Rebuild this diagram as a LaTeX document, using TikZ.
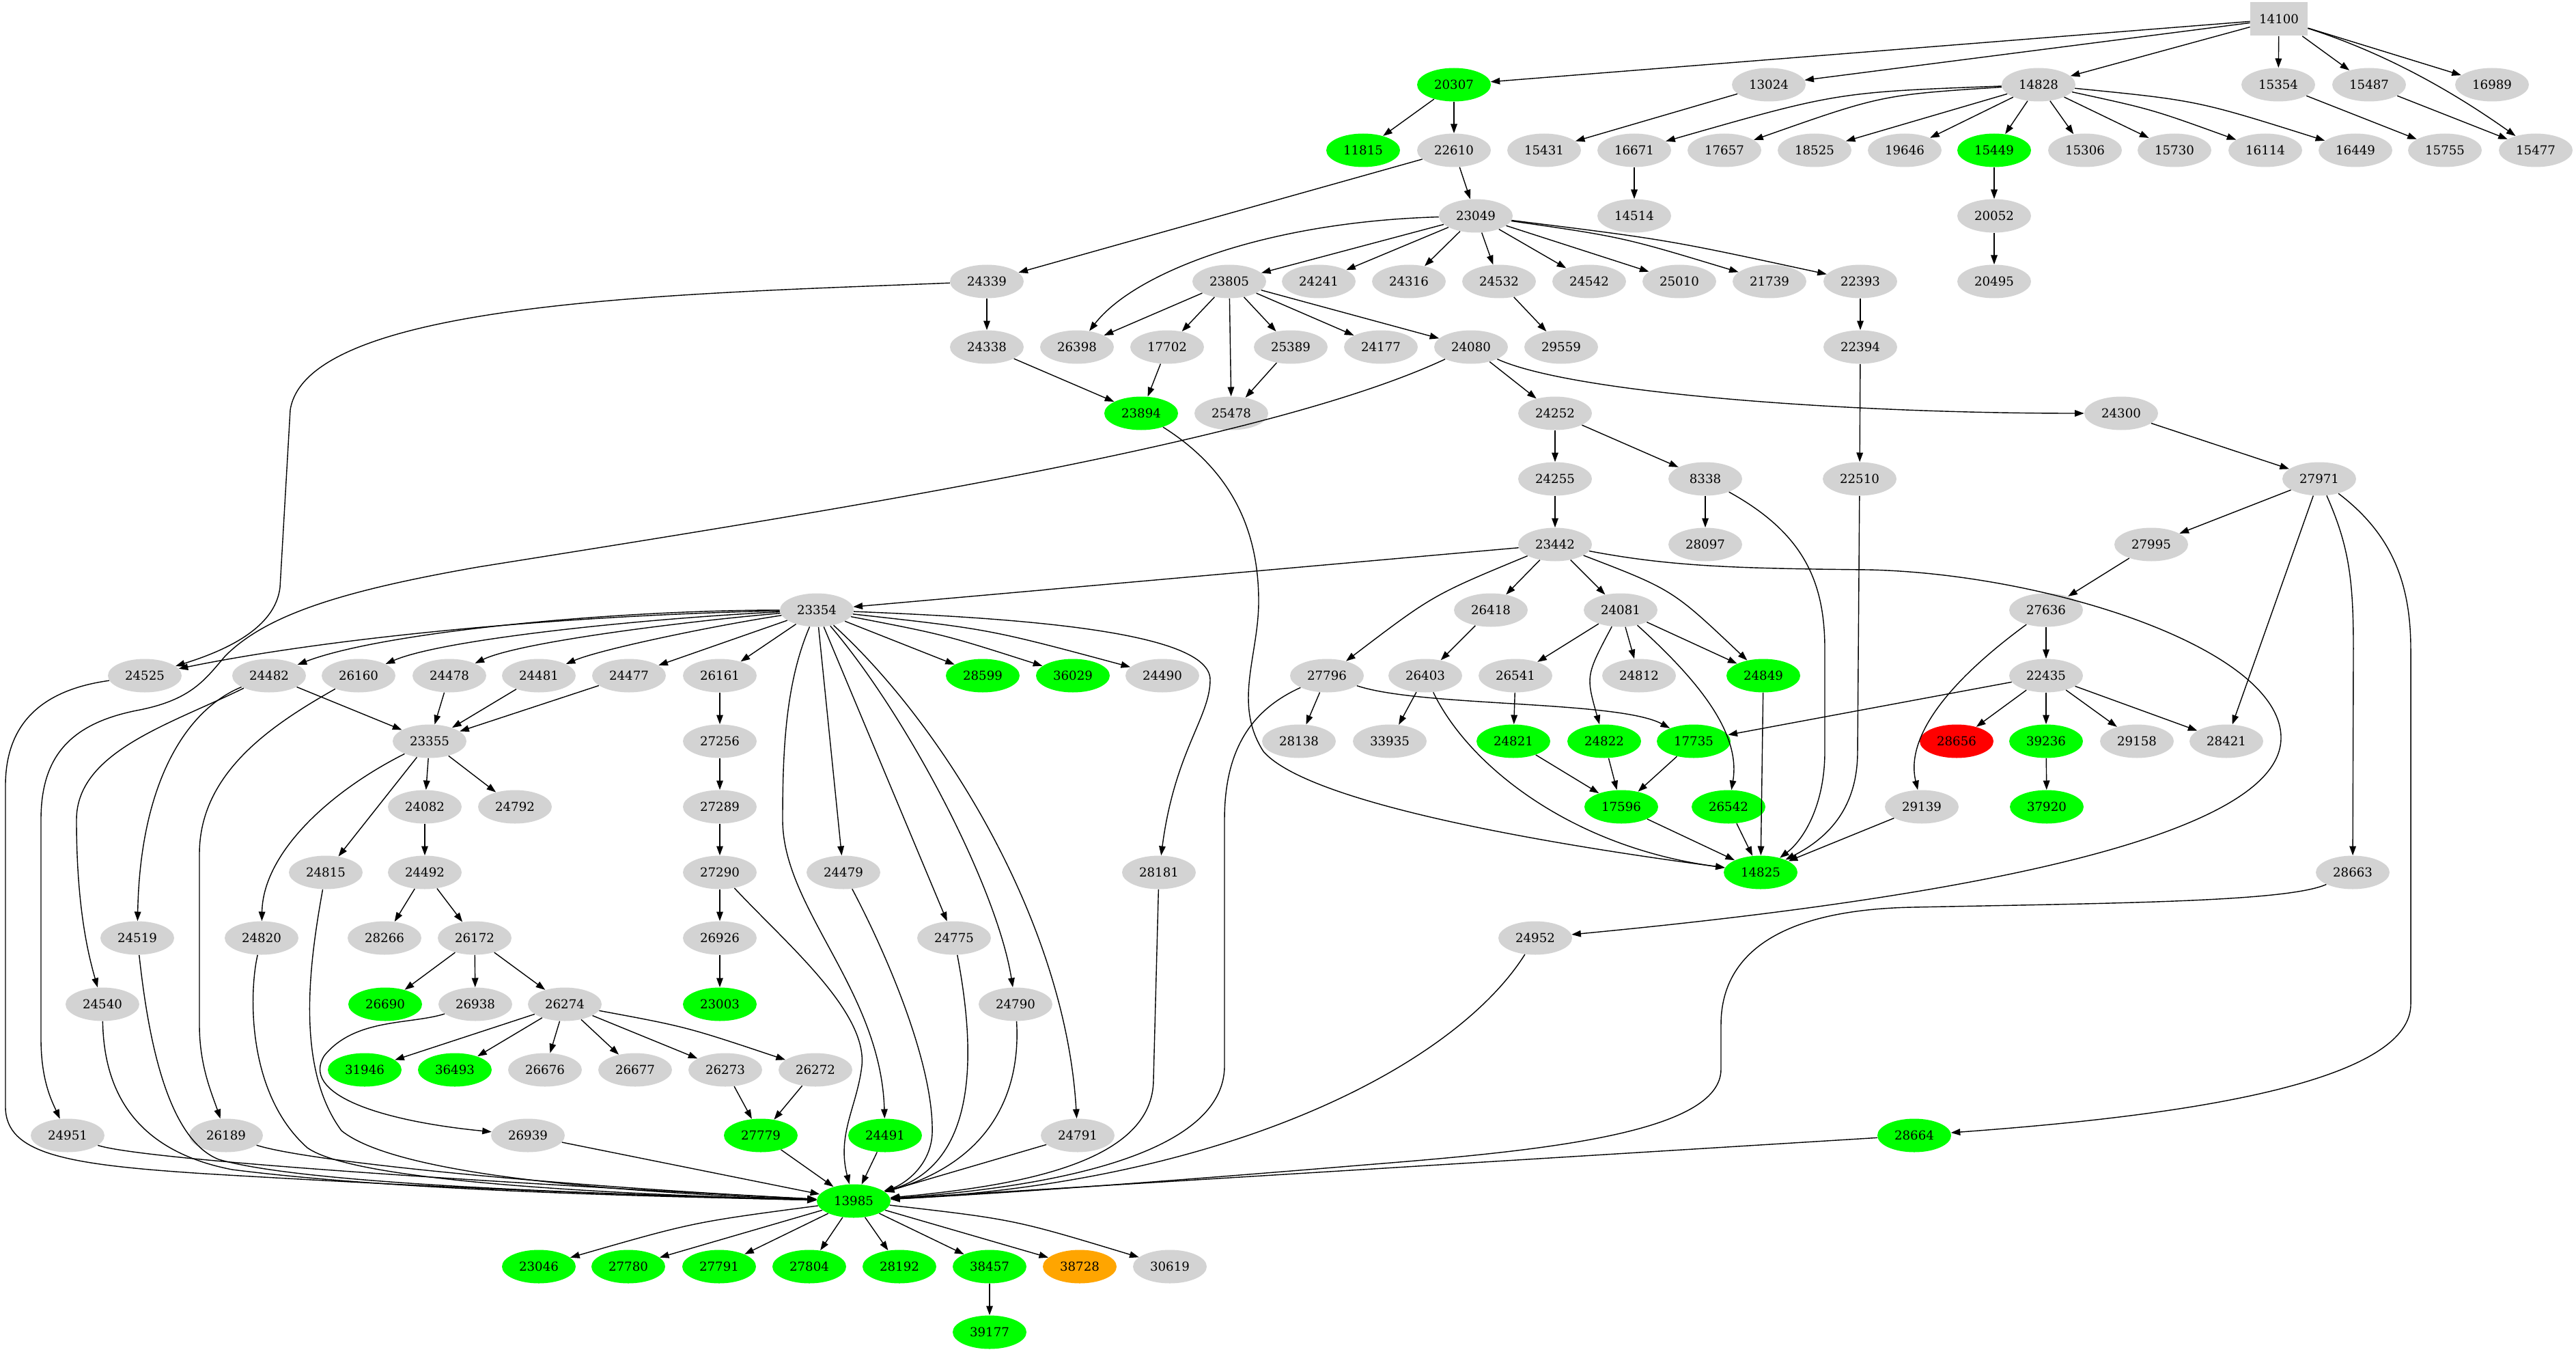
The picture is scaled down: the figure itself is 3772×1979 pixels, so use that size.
\documentclass[tikz,border=0pt]{standalone}
\usepackage{fontspec}
\setmainfont{DejaVu Serif}
\usetikzlibrary{arrows.meta,shapes.geometric}
\definecolor{ggray}{HTML}{D3D3D3}
\definecolor{ggreen}{HTML}{00FF00}
\definecolor{gred}{HTML}{FF0000}
\definecolor{gorange}{HTML}{FFA500}
\tikzset{
 nd/.style={ellipse,fill=ggray,minimum width=54pt,minimum height=24.5pt,inner sep=0pt,font=\fontsize{9.1}{11}\selectfont},
 gn/.style={nd,fill=ggreen},
 rdn/.style={nd,fill=gred},
 orn/.style={nd,fill=gorange},
 bxn/.style={rectangle,fill=ggray,minimum width=42pt,minimum height=24.5pt,inner sep=0pt,font=\fontsize{9.1}{11}\selectfont},
 ar/.style={-{Triangle[length=6.8pt,width=4.8pt]},line width=0.7pt}
}
\begin{document}
\begin{tikzpicture}[x=0.5pt,y=-0.5pt]
\useasboundingbox (0,0) rectangle (3772,1979);
% row 0
\node[bxn] (n14100) at (3337,28) {14100};
% row 1
\node[gn] (n20307) at (2129,124) {20307};
\node[nd] (n13024) at (2590,124) {13024};
\node[nd] (n14828) at (2985,124) {14828};
\node[nd] (n15354) at (3336,124) {15354};
\node[nd] (n15487) at (3469,124) {15487};
\node[nd] (n16989) at (3649,124) {16989};
% row 2
\node[gn] (n11815) at (1996,220) {11815};
\node[nd] (n22610) at (2129,220) {22610};
\node[nd] (n15431) at (2261,220) {15431};
\node[nd] (n16671) at (2393,220) {16671};
\node[nd] (n17657) at (2525,220) {17657};
\node[nd] (n18525) at (2657,220) {18525};
\node[nd] (n19646) at (2789,220) {19646};
\node[gn] (n15449) at (2920,220) {15449};
\node[nd] (n15306) at (3053,220) {15306};
\node[nd] (n15730) at (3184,220) {15730};
\node[nd] (n16114) at (3317,220) {16114};
\node[nd] (n16449) at (3449,220) {16449};
\node[nd] (n15755) at (3580,220) {15755};
\node[nd] (n15477) at (3713,220) {15477};
% row 3
\node[nd] (n23049) at (2161,316) {23049};
\node[nd] (n14514) at (2393,316) {14514};
\node[nd] (n20052) at (2920,316) {20052};
% row 4
\node[nd] (n24339) at (1445,412) {24339};
\node[nd] (n23805) at (1800,412) {23805};
\node[nd] (n24241) at (1931,412) {24241};
\node[nd] (n24316) at (2063,412) {24316};
\node[nd] (n24532) at (2195,412) {24532};
\node[nd] (n24542) at (2327,412) {24542};
\node[nd] (n25010) at (2459,412) {25010};
\node[nd] (n21739) at (2591,412) {21739};
\node[nd] (n22393) at (2724,412) {22393};
\node[nd] (n20495) at (2920,412) {20495};
% row 5
\node[nd] (n24338) at (1445,508) {24338};
\node[nd] (n26398) at (1577,508) {26398};
\node[nd] (n17702) at (1709,508) {17702};
\node[nd] (n25389) at (1890,508) {25389};
\node[nd] (n24177) at (2022,508) {24177};
\node[nd] (n24080) at (2154,508) {24080};
\node[nd] (n29559) at (2286,508) {29559};
\node[nd] (n22394) at (2724,508) {22394};
% row 6
\node[gn] (n23894) at (1671,605) {23894};
\node[nd] (n25478) at (1803,605) {25478};
\node[nd] (n24252) at (2277,605) {24252};
\node[nd] (n24300) at (3106,605) {24300};
% row 7
\node[nd] (n24255) at (2277,701) {24255};
\node[nd] (n8338) at (2497,701) {8338};
\node[nd] (n22510) at (2723,701) {22510};
\node[nd] (n27971) at (3396,701) {27971};
% row 8
\node[nd] (n23442) at (2277,797) {23442};
\node[nd] (n28097) at (2497,797) {28097};
\node[nd] (n27995) at (3150,797) {27995};
% row 9
\node[nd] (n23354) at (1196,893) {23354};
\node[nd] (n26418) at (2183,893) {26418};
\node[nd] (n24081) at (2373,893) {24081};
\node[nd] (n27636) at (2996,893) {27636};
% row 10
\node[nd] (n24525) at (212,989) {24525};
\node[nd] (n24482) at (394,989) {24482};
\node[nd] (n26160) at (525,989) {26160};
\node[nd] (n24478) at (658,989) {24478};
\node[nd] (n24481) at (789,989) {24481};
\node[nd] (n24477) at (921,989) {24477};
\node[nd] (n26161) at (1054,989) {26161};
\node[gn] (n28599) at (1439,989) {28599};
\node[gn] (n36029) at (1571,989) {36029};
\node[nd] (n24490) at (1702,989) {24490};
\node[nd] (n27796) at (1943,989) {27796};
\node[nd] (n26403) at (2087,989) {26403};
\node[nd] (n26541) at (2219,989) {26541};
\node[nd] (n24812) at (2400,989) {24812};
\node[gn] (n24849) at (2582,989) {24849};
\node[nd] (n22435) at (2996,989) {22435};
% row 11
\node[nd] (n23355) at (629,1085) {23355};
\node[nd] (n27256) at (1054,1085) {27256};
\node[nd] (n28138) at (1902,1085) {28138};
\node[nd] (n33935) at (2035,1085) {33935};
\node[gn] (n24821) at (2216,1085) {24821};
\node[gn] (n24822) at (2349,1085) {24822};
\node[gn] (n17735) at (2480,1085) {17735};
\node[rdn] (n28656) at (2865,1085) {28656};
\node[gn] (n39236) at (2996,1085) {39236};
\node[nd] (n29158) at (3129,1085) {29158};
\node[nd] (n28421) at (3260,1085) {28421};
% row 12
\node[nd] (n24082) at (622,1181) {24082};
\node[nd] (n24792) at (754,1181) {24792};
\node[nd] (n27289) at (1054,1181) {27289};
\node[gn] (n17596) at (2374,1181) {17596};
\node[gn] (n26542) at (2531,1181) {26542};
\node[nd] (n29139) at (2814,1181) {29139};
\node[gn] (n37920) at (2997,1181) {37920};
% row 13
\node[nd] (n24815) at (477,1277) {24815};
\node[nd] (n24492) at (622,1277) {24492};
\node[nd] (n27290) at (1054,1277) {27290};
\node[nd] (n24479) at (1235,1277) {24479};
\node[nd] (n28181) at (1697,1277) {28181};
\node[gn] (n14825) at (2578,1277) {14825};
\node[nd] (n28663) at (3445,1277) {28663};
% row 14
\node[nd] (n24519) at (201,1373) {24519};
\node[nd] (n24820) at (383,1373) {24820};
\node[nd] (n28266) at (563,1373) {28266};
\node[nd] (n26172) at (695,1373) {26172};
\node[nd] (n26926) at (1054,1373) {26926};
\node[nd] (n24775) at (1397,1373) {24775};
\node[nd] (n24952) at (2248,1373) {24952};
% row 15
\node[nd] (n24540) at (150,1470) {24540};
\node[gn] (n26690) at (564,1470) {26690};
\node[nd] (n26938) at (696,1470) {26938};
\node[nd] (n26274) at (827,1470) {26274};
\node[gn] (n23003) at (1054,1470) {23003};
\node[nd] (n24790) at (1487,1470) {24790};
% row 16
\node[gn] (n31946) at (534,1566) {31946};
\node[gn] (n36493) at (666,1566) {36493};
\node[nd] (n26676) at (798,1566) {26676};
\node[nd] (n26677) at (930,1566) {26677};
\node[nd] (n26273) at (1062,1566) {26273};
\node[nd] (n26272) at (1194,1566) {26272};
% row 17
\node[nd] (n24951) at (99,1662) {24951};
\node[nd] (n26189) at (331,1662) {26189};
\node[nd] (n26939) at (773,1662) {26939};
\node[gn] (n27779) at (1114,1662) {27779};
\node[gn] (n24491) at (1296,1662) {24491};
\node[nd] (n24791) at (1578,1662) {24791};
\node[gn] (n28664) at (2803,1662) {28664};
% row 18
\node[gn] (n13985) at (1250,1758) {13985};
% row 19
\node[gn] (n23046) at (789,1854) {23046};
\node[gn] (n27780) at (920,1854) {27780};
\node[gn] (n27791) at (1053,1854) {27791};
\node[gn] (n27804) at (1185,1854) {27804};
\node[gn] (n28192) at (1317,1854) {28192};
\node[gn] (n38457) at (1449,1854) {38457};
\node[orn] (n38728) at (1581,1854) {38728};
\node[nd] (n30619) at (1713,1854) {30619};
% row 20
\node[gn] (n39177) at (1449,1950) {39177};

% straight edges
\foreach \a/\b in {14100/20307,14100/13024,14100/14828,14100/15354,14100/15487,14100/16989,
 20307/11815,20307/22610,13024/15431,
 14828/18525,14828/19646,14828/15449,14828/15306,14828/15730,
 15354/15755,15487/15477,
 22610/23049,22610/24339,16671/14514,15449/20052,20052/20495,
 23049/23805,23049/24241,23049/24316,23049/24532,23049/24542,23049/25010,
 24339/24338,23805/26398,23805/17702,23805/25478,23805/25389,23805/24177,23805/24080,
 24532/29559,22393/22394,22394/22510,
 24338/23894,17702/23894,25389/25478,
 24080/24252,24252/24255,24252/8338,24300/27971,
 24255/23442,8338/28097,27971/27995,27971/28421,
 23442/23354,23442/26418,23442/24081,27995/27636,
 26418/26403,24081/26541,24081/24812,24081/24849,27636/22435,
 26403/33935,27796/28138,26541/24821,22435/17735,22435/28656,22435/39236,22435/29158,22435/28421,
 24821/17596,24822/17596,17735/17596,39236/37920,
 17596/14825,26542/14825,24849/14825,29139/14825,
 23354/24477,23354/26161,23354/28599,23354/24479,23354/24775,
 24482/23355,24478/23355,24481/23355,24477/23355,
 26161/27256,27256/27289,27289/27290,27290/26926,26926/23003,
 23355/24082,23355/24792,23355/24815,24082/24492,24492/28266,24492/26172,
 26172/26690,26172/26938,26172/26274,
 26274/31946,26274/36493,26274/26676,26274/26677,26274/26273,
 26273/27779,26272/27779,
 26939/13985,27779/13985,24491/13985,24791/13985,28664/13985,
 13985/27780,13985/27791,13985/27804,13985/28192,13985/38457,13985/38728,
 38457/39177}
 \draw[ar] (n\a) -- (n\b);

% slightly bent edges
\draw[ar] (n14828) .. controls (2690,135) .. (n16671);
\draw[ar] (n14828) .. controls (2755,139) .. (n17657);
\draw[ar] (n14828) .. controls (3217,147) .. (n16449);
\draw[ar] (n14828) .. controls (3151,160) .. (n16114);
\draw[ar] (n23049) .. controls (2376,347) .. (n21739);
\draw[ar] (n23049) .. controls (2442,351) .. (n22393);
\draw[ar] (n23354) .. controls (1383,929) .. (n36029);
\draw[ar] (n23354) .. controls (1449,921) .. (n24490);
\draw[ar] (n13985) .. controls (1015,1789) .. (n23046);
\draw[ar] (n13985) .. controls (1485,1785) .. (n30619);
\draw[ar] (n26274) .. controls (1005,1503) .. (n26272);
\draw[ar] (n23442) .. controls (2098,871) .. (n27796);
\draw[ar] (n23442) .. controls (2449,863) .. (n24849);
\draw[ar] (n24081) .. controls (2322,989) .. (n24822);

% curved edges
\draw[ar] (n14100) .. controls (3500,80) and (3600,140) .. (n15477);
\draw[ar] (n23049) .. controls (1850,325) and (1660,400) .. (n26398);
\draw[ar] (n24080) .. controls (2300,575) and (2700,605) .. (n24300);
\draw[ar] (n24080) .. controls (1850,650) and (1200,750) .. (700,830)
  .. controls (500,865) and (390,900) .. (330,960)
  .. controls (300,995) and (280,1025) .. (200,1040)
  .. controls (100,1060) and (60,1110) .. (60,1200) -- (60,1520)
  .. controls (60,1580) and (75,1610) .. (n24951);
\draw[ar] (n24339) .. controls (1000,430) and (450,440) .. (425,600) -- (410,860)
  .. controls (405,900) and (370,940) .. (n24525);
\draw[ar] (n23894) .. controls (1790,680) and (1843,760) .. (1843,880)
  .. controls (1843,960) and (1805,1030) .. (1850,1100)
  .. controls (1920,1180) and (2300,1240) .. (n14825);
\draw[ar] (n8338) .. controls (2640,780) and (2672,850) .. (2672,950) -- (2672,1100)
  .. controls (2672,1180) and (2640,1230) .. (n14825);
\draw[ar] (n22510) -- (2720,1100) .. controls (2720,1180) and (2680,1225) .. (n14825);
\draw[ar] (n26403) .. controls (2150,1120) and (2300,1240) .. (n14825);
\draw[ar] (n24081) .. controls (2480,990) and (2550,1070) .. (n26542);
\draw[ar] (n27796) .. controls (2080,1035) and (2370,1025) .. (n17735);
\draw[ar] (n27636) .. controls (2850,1000) and (2790,1080) .. (n29139);
\draw[ar] (n27971) .. controls (3440,800) and (3446,850) .. (3446,950) -- (n28663);
\draw[ar] (n27971) .. controls (3500,780) and (3530,850) .. (3530,950) -- (3530,1470)
  .. controls (3530,1600) and (3100,1640) .. (n28664);
\draw[ar] (n23442) .. controls (2450,830) and (2550,832) .. (2736,834)
  .. controls (3000,840) and (3340,950) .. (3340,1080)
  .. controls (3340,1250) and (2700,1330) .. (n24952);
% 23354 fan
\draw[ar] (n23354) .. controls (850,900) and (500,930) .. (n24525);
\draw[ar] (n23354) .. controls (900,893) and (560,925) .. (n24482);
\draw[ar] (n23354) .. controls (950,905) and (650,935) .. (n26160);
\draw[ar] (n23354) .. controls (1000,910) and (760,940) .. (n24478);
\draw[ar] (n23354) .. controls (1050,915) and (880,950) .. (n24481);
\draw[ar] (n23354) .. controls (1330,1050) and (1460,1300) .. (n24790);
\draw[ar] (n23354) .. controls (1380,1060) and (1560,1350) .. (n24791);
\draw[ar] (n23354) .. controls (1150,1000) and (1146,1100) .. (1146,1200)
  .. controls (1146,1330) and (1290,1450) .. (n24491);
\draw[ar] (n23354) .. controls (1500,905) and (1772,925) .. (1772,995)
  .. controls (1772,1050) and (1720,1100) .. (n28181);
% left side
\draw[ar] (n24482) .. controls (250,1060) and (112,1100) .. (112,1200)
  .. controls (112,1330) and (130,1400) .. (n24540);
\draw[ar] (n24482) .. controls (270,1040) and (205,1150) .. (n24519);
\draw[ar] (n26160) .. controls (400,1060) and (292,1130) .. (292,1250) -- (292,1500)
  .. controls (292,1560) and (310,1600) .. (n26189);
\draw[ar] (n23355) .. controls (480,1160) and (385,1250) .. (n24820);
\draw[ar] (n26938) .. controls (600,1500) and (520,1490) .. (475,1545)
  .. controls (440,1600) and (550,1640) .. (n26939);
% into 13985
\draw[ar] (n24525) .. controls (60,1010) and (8,1060) .. (8,1150) -- (8,1620)
  .. controls (8,1690) and (100,1705) .. (300,1718)
  .. controls (700,1742) and (1000,1752) .. (n13985);
\draw[ar] (n24519) .. controls (215,1500) and (240,1665) .. (320,1697)
  .. controls (450,1735) and (900,1748) .. (n13985);
\draw[ar] (n24540) .. controls (152,1600) and (200,1685) .. (340,1712)
  .. controls (600,1745) and (1000,1752) .. (n13985);
\draw[ar] (n24951) .. controls (200,1695) and (600,1725) .. (n13985);
\draw[ar] (n26189) .. controls (450,1700) and (800,1735) .. (n13985);
\draw[ar] (n24820) .. controls (365,1450) and (360,1600) .. (450,1680)
  .. controls (520,1730) and (900,1748) .. (n13985);
\draw[ar] (n24815) .. controls (455,1400) and (430,1560) .. (500,1655)
  .. controls (580,1720) and (900,1745) .. (n13985);
\draw[ar] (n27290) .. controls (1150,1380) and (1270,1480) .. (1262,1560)
  .. controls (1255,1620) and (1225,1660) .. (n13985);
\draw[ar] (n24479) .. controls (1300,1400) and (1368,1560) .. (1365,1660)
  .. controls (1362,1710) and (1320,1735) .. (n13985);
\draw[ar] (n24775) .. controls (1425,1520) and (1440,1700) .. (n13985);
\draw[ar] (n24790) .. controls (1495,1600) and (1450,1700) .. (n13985);
\draw[ar] (n28181) -- (1689,1580) .. controls (1689,1700) and (1500,1735) .. (n13985);
\draw[ar] (n27796) .. controls (1830,1040) and (1793,1100) .. (1793,1200) -- (1793,1560)
  .. controls (1793,1700) and (1500,1740) .. (n13985);
\draw[ar] (n24952) .. controls (2130,1560) and (1800,1730) .. (n13985);
\draw[ar] (n28663) .. controls (3350,1320) and (3100,1322) .. (2800,1328)
  .. controls (2600,1332) and (2520,1400) .. (2520,1500) -- (2520,1565)
  .. controls (2520,1660) and (2250,1685) .. (2000,1705)
  .. controls (1700,1730) and (1450,1748) .. (n13985);
\end{tikzpicture}
\end{document}
